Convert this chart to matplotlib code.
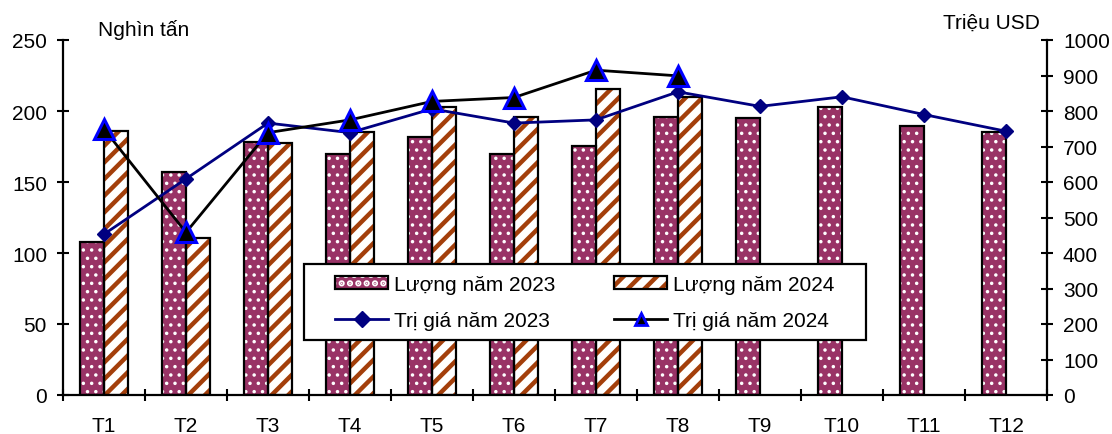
import matplotlib
matplotlib.use("Agg")
import matplotlib.pyplot as plt
import numpy as np
from matplotlib.patches import Patch, Rectangle
from matplotlib.lines import Line2D
from matplotlib.legend_handler import HandlerTuple

plt.rcParams['font.family'] = ['Liberation Sans', 'DejaVu Sans']

months = ["T1", "T2", "T3", "T4", "T5", "T6", "T7", "T8", "T9", "T10", "T11", "T12"]
volume_2023 = [107.5, 157.3, 178.4, 169.5, 181.9, 169.5, 175.4, 196.0, 194.8, 203.0, 189.6, 185.0]
volume_2024 = [186.1, 110.8, 177.7, 185.2, 203.0, 196.0, 215.5, 210.0]
value_2023 = [453, 609, 766, 739, 806, 766, 775, 854, 813, 840, 790, 743]
value_2024 = [749, 458, 739, 775, 827, 838, 915, 899]

label_v23 = "Lượng năm 2023"
label_v24 = "Lượng năm 2024"
label_p23 = "Trị giá năm 2023"
label_p24 = "Trị giá năm 2024"

PURPLE = "#993366"
BROWN = "#A33F0B"
NAVY = "#000080"
FS = 15

W, H = 1112, 435
fig = plt.figure(figsize=(W / 100, H / 100), dpi=100)
ax = fig.add_axes([63 / W, 1 - 396 / H, 984 / W, 355 / H])
ax2 = ax.twinx()

x = np.arange(len(months))
w = 0.29
x23 = x - 0.145
x24 = np.arange(len(volume_2024)) + 0.145

DOT_LW = 1.3
STRIPE_LW = 3.2


def set_hlw(patches, lw):
    for p in patches:
        if hasattr(p, "set_hatch_linewidth"):
            p.set_hatch_linewidth(lw)


plt.rcParams['hatch.linewidth'] = DOT_LW
b1 = ax.bar(x23, volume_2023, w, color=PURPLE, edgecolor="white", hatch="..", linewidth=0, zorder=2)
set_hlw(b1, DOT_LW)
h23_fill = Patch(facecolor=PURPLE, edgecolor="white", hatch="..", linewidth=0)
set_hlw([h23_fill], DOT_LW)

plt.rcParams['hatch.linewidth'] = STRIPE_LW
b2 = ax.bar(x24, volume_2024, w, color="white", edgecolor=BROWN, hatch="//", linewidth=0, zorder=2)
set_hlw(b2, STRIPE_LW)
h24_fill = Patch(facecolor="white", edgecolor=BROWN, hatch="//", linewidth=0)
set_hlw([h24_fill], STRIPE_LW)

ax.bar(x23, volume_2023, w, fill=False, edgecolor="black", linewidth=1.6, zorder=3)
ax.bar(x24, volume_2024, w, fill=False, edgecolor="black", linewidth=1.6, zorder=3)

ax2.plot(x[:len(value_2023)], value_2023, color=NAVY, linewidth=2, marker="D",
         markersize=7.5, markerfacecolor=NAVY, markeredgecolor=NAVY, zorder=4)
ax2.plot(np.arange(len(value_2024)), value_2024, color="black", linewidth=2, marker="^",
         markersize=15, markerfacecolor="black", markeredgecolor="#0000FF",
         markeredgewidth=2.2, zorder=5)

ax.set_xlim(-0.5, len(months) - 0.5)
ax.set_ylim(0, 250)
ax2.set_ylim(0, 1000)
ax.set_yticks(np.arange(0, 251, 50))
ax2.set_yticks(np.arange(0, 1001, 100))

ax.set_xticks(x)
ax.set_xticklabels(months, fontsize=FS)
ax.set_xticks(np.arange(-0.5, len(months), 1.0), minor=True)
ax.tick_params(axis="x", which="major", length=0, pad=15)
ax.tick_params(axis="x", which="minor", direction="inout", length=9, width=1.5)
ax.tick_params(axis="y", direction="inout", length=9, width=1.5, labelsize=FS, pad=7)
ax2.tick_params(axis="y", direction="inout", length=9, width=1.5, labelsize=FS, pad=7)

for a in (ax, ax2):
    a.spines["top"].set_visible(False)
    for s in ("left", "right", "bottom"):
        a.spines[s].set_linewidth(1.6)
ax.spines["right"].set_visible(False)
ax2.spines["left"].set_visible(False)
ax2.spines["bottom"].set_visible(False)

fig.text(98 / W, 1 - 36 / H, "Nghìn tấn", fontsize=FS, ha="left", va="baseline")
fig.text(1040 / W, 1 - 29 / H, "Triệu USD", fontsize=FS, ha="right", va="baseline")

# legend box drawn separately so the padding can differ per side
box = Rectangle((304 / W, 1 - 341 / H), 562 / W, 76 / H, transform=fig.transFigure,
                facecolor="white", edgecolor="black", linewidth=1.6, zorder=9)
ax2.add_artist(box)
box.set_clip_on(False)

h23 = (h23_fill, Patch(fill=False, edgecolor="black", linewidth=1.6))
h24 = (h24_fill, Patch(fill=False, edgecolor="black", linewidth=1.6))
l23 = Line2D([], [], color=NAVY, linewidth=2, marker="D", markersize=8,
             markerfacecolor=NAVY, markeredgecolor=NAVY)
l24 = Line2D([], [], color="black", linewidth=2, marker="^", markersize=9,
             markerfacecolor="black", markeredgecolor="#0000FF", markeredgewidth=2)

leg = ax2.legend([h23, l23, h24, l24], [label_v23, label_p23, label_v24, label_p24],
                 handler_map={tuple: HandlerTuple(ndivide=1)},
                 ncol=2, fontsize=FS, loc="upper left",
                 bbox_to_anchor=(335 / W, 1 - 276 / H), bbox_transform=fig.transFigure,
                 frameon=False, handlelength=2.55, handleheight=0.55, handletextpad=0.3,
                 columnspacing=2.8, borderpad=0, labelspacing=0.8, borderaxespad=0)
leg.set_zorder(10)

fig.savefig("out.png", dpi=100)
